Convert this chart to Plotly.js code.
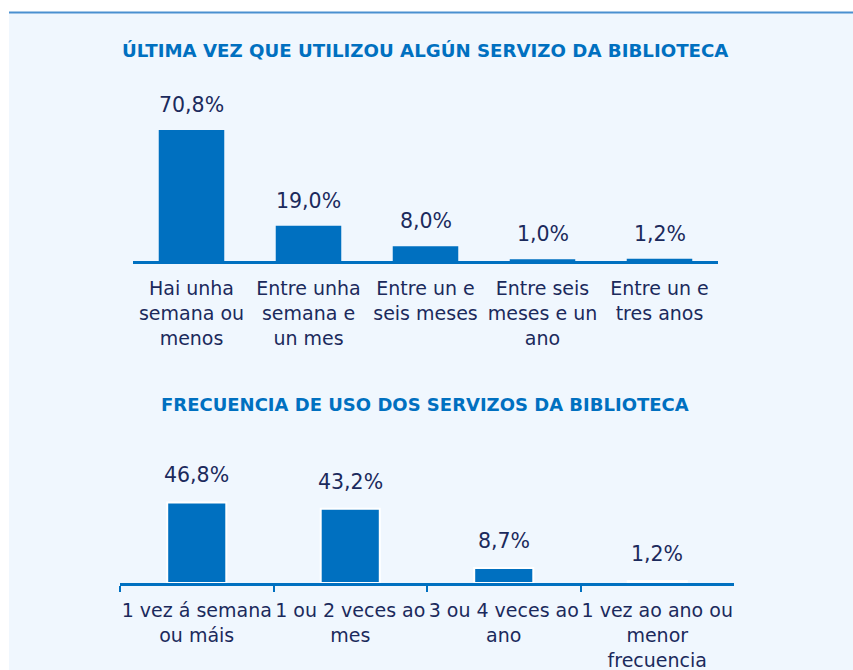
<!DOCTYPE html>
<html>
<head>
<meta charset="utf-8">
<script src="https://cdn.plot.ly/plotly-3.0.1.min.js"></script>
<style>html,body{margin:0;padding:0;background:#fff;}#chart{width:853px;height:670px;}</style>
</head>
<body>
<div id="chart"></div>
<script>
// ---- data ----
const title1 = "ÚLTIMA VEZ QUE UTILIZOU ALGÚN SERVIZO DA BIBLIOTECA";
const cats1 = ["Hai unha<br>semana ou<br>menos", "Entre unha<br>semana e<br>un mes", "Entre un e<br>seis meses", "Entre seis<br>meses e un<br>ano", "Entre un e<br>tres anos"];
const vals1 = [70.8, 19.0, 8.0, 1.0, 1.2];

const title2 = "FRECUENCIA DE USO DOS SERVIZOS DA BIBLIOTECA";
const cats2 = ["1 vez á semana<br>ou máis", "1 ou 2 veces ao<br>mes", "3 ou 4 veces ao<br>ano", "1 vez ao ano ou<br>menor<br>frecuencia"];
const vals2 = [46.8, 43.2, 8.7, 1.2];

// ---- styling ----
const W = 853, H = 670;
const BLUE = "#0070c0";
const TXT = "#1b2a5c";
const FONT = "DejaVu Sans, sans-serif";
const px = v => v / W;
const py = v => 1 - v / H;
const fmt = v => v.toFixed(1).replace(".", ",") + "%";

const traces = [
  {type: "bar", x: cats1, y: vals1, xaxis: "x", yaxis: "y",
   marker: {color: BLUE, line: {width: 0}}, hoverinfo: "none", showlegend: false},
  {type: "bar", x: cats2, y: vals2, xaxis: "x2", yaxis: "y2", width: 0.385,
   marker: {color: BLUE, line: {color: "#ffffff", width: 2}}, hoverinfo: "none", showlegend: false}
];

const annotations = [];
cats1.forEach((c, i) => annotations.push({x: c, y: vals1[i], xref: "x", yref: "y", text: fmt(vals1[i]),
  showarrow: false, yanchor: "bottom", yshift: 11, font: {family: FONT, size: 20.5, color: TXT}}));
cats2.forEach((c, i) => annotations.push({x: c, y: vals2[i], xref: "x2", yref: "y2", text: fmt(vals2[i]),
  showarrow: false, yanchor: "bottom", yshift: 13, font: {family: FONT, size: 20.5, color: TXT}}));
annotations.push({x: px(425), y: py(50.5), xref: "paper", yref: "paper", text: "<b>" + title1 + "</b>",
  showarrow: false, xanchor: "center", yanchor: "middle", font: {family: FONT, size: 18.2, color: BLUE}});
annotations.push({x: px(425), y: py(404), xref: "paper", yref: "paper", text: "<b>" + title2 + "</b>",
  showarrow: false, xanchor: "center", yanchor: "middle", font: {family: FONT, size: 18, color: BLUE}});

const layout = {
  width: W, height: H,
  margin: {l: 0, r: 0, t: 0, b: 0, pad: 0},
  paper_bgcolor: "#ffffff",
  plot_bgcolor: "rgba(0,0,0,0)",
  showlegend: false,
  bargap: 0.44,
  font: {family: FONT, color: TXT},
  shapes: [
    {type: "rect", xref: "paper", yref: "paper", x0: px(9), x1: 1, y0: 0, y1: py(12), fillcolor: "#f0f7fe", line: {width: 0}, layer: "below"},
    {type: "line", xref: "paper", yref: "paper", x0: px(9), x1: 1, y0: py(12.5), y1: py(12.5), line: {color: "#4a90d0", width: 2}, layer: "below"}
  ],
  xaxis: {domain: [px(133), px(718)], anchor: "y", type: "category", showline: true, linecolor: BLUE, linewidth: 2.5,
    ticks: "", showgrid: false, zeroline: false, tickangle: 0, ticklabelstandoff: 9,
    tickfont: {family: FONT, size: 19, color: TXT}, fixedrange: true},
  yaxis: {domain: [py(261), py(100)], anchor: "x", range: [0, 87], visible: false, fixedrange: true},
  xaxis2: {domain: [px(120), px(734)], anchor: "y2", type: "category", showline: true, linecolor: BLUE, linewidth: 2.5,
    ticks: "outside", tickson: "boundaries", ticklen: 6, tickwidth: 2, tickcolor: BLUE, tickangle: 0, ticklabelstandoff: 9,
    showgrid: false, zeroline: false, tickfont: {family: FONT, size: 19, color: TXT}, fixedrange: true},
  yaxis2: {domain: [py(583), py(450)], anchor: "x2", range: [0, 77.3], visible: false, fixedrange: true},
  annotations: annotations
};

Plotly.newPlot("chart", traces, layout, {displayModeBar: false, staticPlot: true});
</script>
</body>
</html>
